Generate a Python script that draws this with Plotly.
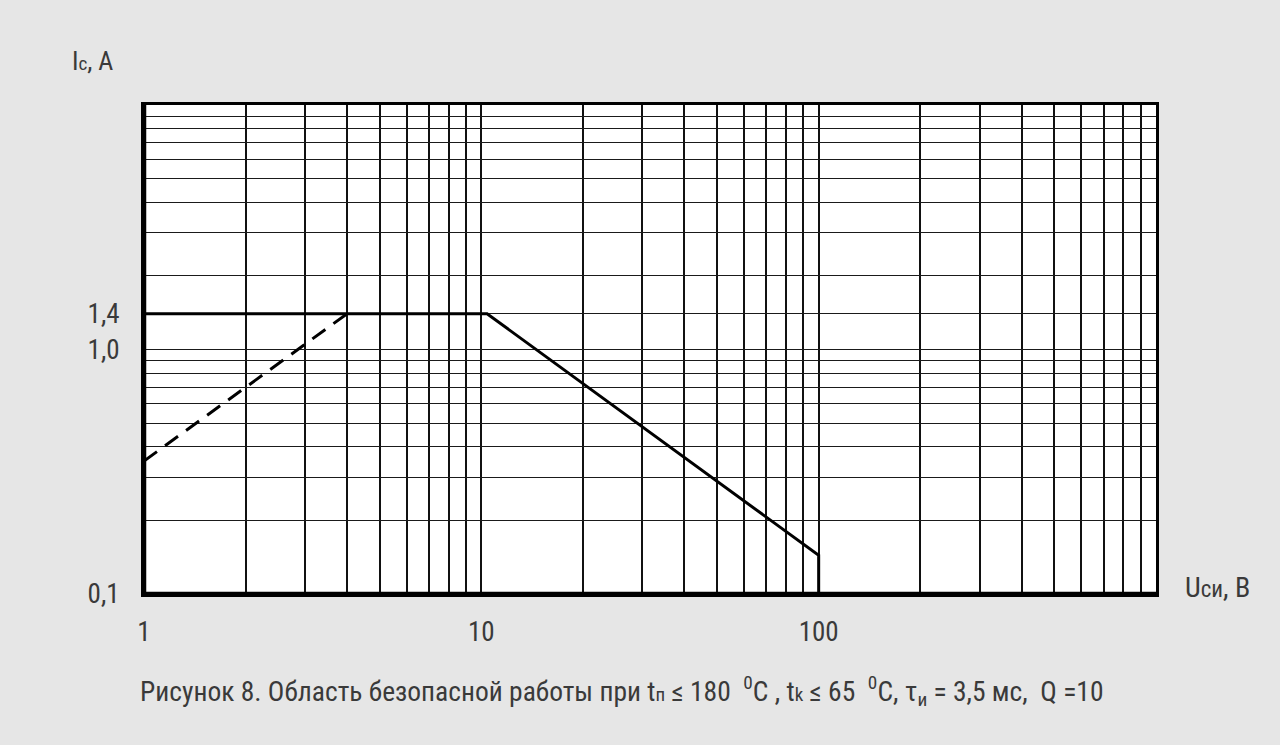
import plotly.graph_objects as go

# ---- data ----
soa_u = [1, 10.4, 100, 100]          # U_си, В  (solid SOA boundary)
soa_i = [1.4, 1.4, 0.144, 0.1]       # I_c, A
dash_u = [1, 4]                      # dashed (R_on limited) segment
dash_i = [0.35, 1.4]

x_grid = [1, 2, 3, 4, 5, 6, 7, 8, 9,
          10, 20, 30, 40, 50, 60, 70, 80, 90,
          100, 200, 300, 400, 500, 600, 700, 800, 900, 1000]
x_labels = {1: "1", 10: "10", 100: "100"}
y_grid = [0.1, 0.2, 0.3, 0.4, 0.5, 0.6, 0.7, 0.8, 0.9,
          1, 1.4, 2, 3, 4, 5, 6, 7, 8, 9, 10]
y_labels = {0.1: "0,1", 1: "1,0", 1.4: "1,4"}

FONT = "Liberation Sans Narrow, Arial Narrow, Roboto Condensed, Liberation Sans, sans-serif"
TXT = "#3a3a3a"

W, H = 1280, 745
L, R, T, B = 144, 124, 105, 151
PW, PH = W - L - R, H - T - B


def px(x):
    return (x - L) / PW


def py(y):
    return (H - B - y) / PH


fig = go.Figure()
fig.add_trace(go.Scatter(x=dash_u, y=dash_i, mode="lines",
                         line=dict(color="black", width=3, dash="16px,10px"),
                         showlegend=False, hoverinfo="skip"))
fig.add_trace(go.Scatter(x=soa_u, y=soa_i, mode="lines",
                         line=dict(color="black", width=3),
                         showlegend=False, hoverinfo="skip"))

fig.update_xaxes(type="log", range=[0, 3],
                 tickmode="array", tickvals=x_grid,
                 ticktext=[x_labels.get(v, "") for v in x_grid],
                 showgrid=True, gridcolor="#111111", gridwidth=1.6,
                 showline=True, linecolor="black", linewidth=3, mirror=True,
                 ticks="", zeroline=False, ticklabelstandoff=12,
                 tickfont=dict(family=FONT, size=27, color=TXT))
fig.update_yaxes(type="log", range=[-1, 1],
                 tickmode="array", tickvals=y_grid,
                 ticktext=[y_labels.get(v, "") for v in y_grid],
                 showgrid=True, gridcolor="#1a1a1a", gridwidth=1.3,
                 showline=True, linecolor="black", linewidth=3, mirror=True,
                 ticks="", zeroline=False, ticklabelstandoff=16,
                 tickfont=dict(family=FONT, size=27, color=TXT))

# thicker left / bottom frame
fig.add_shape(type="line", xref="x domain", yref="y domain", x0=0, x1=0, y0=0, y1=1,
              line=dict(color="black", width=4.5))
fig.add_shape(type="line", xref="x domain", yref="y domain", x0=0, x1=1, y0=0, y1=0,
              line=dict(color="black", width=4.5))

fig.add_annotation(xref="paper", yref="paper", x=px(70), y=py(61),
                   xanchor="left", yanchor="middle", showarrow=False,
                   text="I<span style='font-size:19px'>c</span>, A",
                   font=dict(family=FONT, size=26, color=TXT))
fig.add_annotation(xref="paper", yref="paper", x=px(1183), y=py(587),
                   xanchor="left", yanchor="middle", showarrow=False,
                   text="U<span style='font-size:23px'>си</span>, В",
                   font=dict(family=FONT, size=28, color=TXT))
caption = ("Рисунок 8. Область безопасной работы при t<span style='font-size:19px'>п</span> ≤ 180 "
           " <sup>0</sup>C , t<span style='font-size:19px'>k</span> ≤ 65  <sup>0</sup>C, "
           "τ<sub>и</sub> = 3,5 мс,  Q =10")
fig.add_annotation(xref="paper", yref="paper", x=px(622), y=py(691),
                   xanchor="center", yanchor="middle", showarrow=False,
                   text=caption, font=dict(family=FONT, size=27.5, color=TXT))

fig.update_layout(width=W, height=H,
                  margin=dict(l=L, r=R, t=T, b=B, pad=0),
                  paper_bgcolor="#e6e6e6", plot_bgcolor="white",
                  showlegend=False)

fig.write_html("out.html",
               config={"displayModeBar": False},
               post_script="document.body.style.margin='0px';"
                           "document.body.style.background='#e6e6e6';")
